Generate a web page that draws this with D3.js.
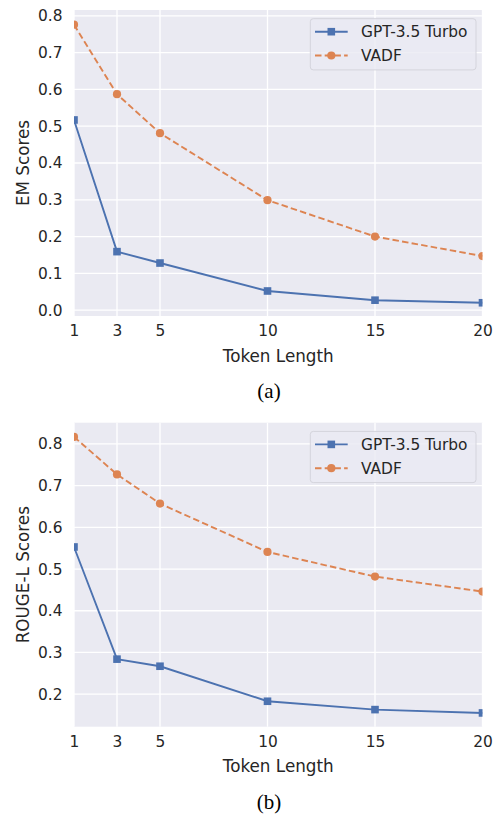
<!DOCTYPE html>
<html>
<head>
<meta charset="utf-8">
<script src="https://cdn.jsdelivr.net/npm/d3@7"></script>
<style>
  html, body { margin: 0; padding: 0; background: #fff; }
  svg { display: block; }
</style>
</head>
<body>
<svg id="chart" width="494" height="814"></svg>
<script>
// ---- data ----
const tokenLengths = [1, 3, 5, 10, 15, 20];
const seriesNames = ["GPT-3.5 Turbo", "VADF"];
const emGPT = [0.517, 0.159, 0.128, 0.052, 0.027, 0.020];
const emVADF = [0.776, 0.587, 0.481, 0.299, 0.200, 0.147];
const rougeGPT = [0.553, 0.284, 0.267, 0.183, 0.163, 0.155];
const rougeVADF = [0.817, 0.727, 0.657, 0.541, 0.482, 0.446];
const emTicks = [0.0, 0.1, 0.2, 0.3, 0.4, 0.5, 0.6, 0.7, 0.8];
const rougeTicks = [0.2, 0.3, 0.4, 0.5, 0.6, 0.7, 0.8];
const xTicks = [1, 3, 5, 10, 15, 20];

const colors = ["#4C72B0", "#DD8452"];
const svg = d3.select("#chart");
const FONT = "DejaVu Sans, sans-serif";
const TXT = "#262626";
const TICK_FS = 15.4, LABEL_FS = 16.8;

function panel(opt) {
  const { id, top, bottom, yDomain, yTicks, yLabel, gpt, vadf, caption, captionY } = opt;
  const left = 74, right = 482.5;
  const x = d3.scaleLinear().domain([1, 20]).range([left, right]);
  const y = d3.scaleLinear().domain(yDomain).range([bottom, top]);
  const g = svg.append("g");

  g.append("rect").attr("x", left).attr("y", top)
    .attr("width", right - left).attr("height", bottom - top)
    .attr("fill", "#EAEAF2");

  svg.append("defs").append("clipPath").attr("id", "clip" + id)
    .append("rect").attr("x", left).attr("y", top)
    .attr("width", right - left).attr("height", bottom - top);

  // grid
  const grid = g.append("g").attr("stroke", "#fff").attr("stroke-width", 1.3);
  yTicks.forEach(t => grid.append("line")
    .attr("x1", left).attr("x2", right).attr("y1", y(t)).attr("y2", y(t)));
  xTicks.forEach(t => grid.append("line")
    .attr("y1", top).attr("y2", bottom).attr("x1", x(t)).attr("x2", x(t)));

  const yAxis = d3.axisLeft(y).tickValues(yTicks).tickFormat(d3.format(".1f")).tickSize(0).tickPadding(11.5);
  const ya = g.append("g").attr("transform", `translate(${left},0)`).call(yAxis);
  ya.select(".domain").remove();
  ya.selectAll("text").attr("font-family", FONT).attr("font-size", TICK_FS).attr("fill", TXT);

  const xAxis = d3.axisBottom(x).tickValues(xTicks).tickFormat(d3.format("d")).tickSize(0).tickPadding(9.3);
  const xa = g.append("g").attr("transform", `translate(0,${bottom})`).call(xAxis);
  xa.select(".domain").remove();
  xa.selectAll("text").attr("font-family", FONT).attr("font-size", TICK_FS).attr("fill", TXT);

  g.append("text").attr("x", (left + right) / 2).attr("y", bottom + 45.7)
    .attr("text-anchor", "middle").attr("font-family", FONT).attr("font-size", LABEL_FS)
    .attr("fill", TXT).text("Token Length");

  g.append("text").attr("transform", `translate(29,${(top + bottom) / 2}) rotate(-90)`)
    .attr("text-anchor", "middle").attr("font-family", FONT).attr("font-size", LABEL_FS)
    .attr("fill", TXT).text(yLabel);

  // series
  const data = [gpt, vadf];
  const plot = g.append("g").attr("clip-path", `url(#clip${id})`);
  data.forEach((vals, i) => {
    const pts = tokenLengths.map((t, k) => [t, vals[k]]);
    const line = d3.line().x(d => x(d[0])).y(d => y(d[1]));
    plot.append("path").attr("d", line(pts)).attr("fill", "none")
      .attr("stroke", colors[i]).attr("stroke-width", 1.9)
      .attr("stroke-dasharray", i === 1 ? "6.5,3.2" : null);
    pts.forEach(p => {
      if (i === 0) {
        plot.append("rect").attr("x", x(p[0]) - 3.8).attr("y", y(p[1]) - 3.8)
          .attr("width", 7.6).attr("height", 7.6).attr("fill", colors[i]);
      } else {
        plot.append("circle").attr("cx", x(p[0])).attr("cy", y(p[1]))
          .attr("r", 4.1).attr("fill", colors[i]);
      }
    });
  });

  // legend
  const lx = 310.3, lw = 165.7, ly = top + 8.7, lh = 51.2;
  const lg = g.append("g");
  lg.append("rect").attr("x", lx).attr("y", ly).attr("width", lw).attr("height", lh)
    .attr("rx", 3).attr("fill", "#EAEAF2").attr("fill-opacity", 0.8)
    .attr("stroke", "#d4d4dc").attr("stroke-width", 1);
  seriesNames.forEach((name, i) => {
    const cy = ly + 13 + i * 23.8;
    lg.append("line").attr("x1", lx + 4.7).attr("x2", lx + 37.4).attr("y1", cy).attr("y2", cy)
      .attr("stroke", colors[i]).attr("stroke-width", 1.9)
      .attr("stroke-dasharray", i === 1 ? "6.5,3.2" : null);
    if (i === 0) {
      lg.append("rect").attr("x", lx + 21 - 3.8).attr("y", cy - 3.8).attr("width", 7.6).attr("height", 7.6)
        .attr("fill", colors[i]);
    } else {
      lg.append("circle").attr("cx", lx + 21).attr("cy", cy).attr("r", 4.1).attr("fill", colors[i]);
    }
    lg.append("text").attr("x", lx + 50.7).attr("y", cy + 5.6)
      .attr("font-family", FONT).attr("font-size", TICK_FS).attr("fill", TXT).text(name);
  });

  svg.append("text").attr("x", 269).attr("y", captionY).attr("text-anchor", "middle")
    .attr("font-family", "Liberation Serif, Times New Roman, serif").attr("font-size", 21)
    .attr("fill", "#000").text(caption);
}

panel({ id: "a", top: 10, bottom: 316, yDomain: [-0.016, 0.816], yTicks: emTicks,
  yLabel: "EM Scores", gpt: emGPT, vadf: emVADF, caption: "(a)", captionY: 398 });
panel({ id: "b", top: 422.7, bottom: 726.7, yDomain: [0.122, 0.851], yTicks: rougeTicks,
  yLabel: "ROUGE-L Scores", gpt: rougeGPT, vadf: rougeVADF, caption: "(b)", captionY: 809 });
</script>
</body>
</html>
